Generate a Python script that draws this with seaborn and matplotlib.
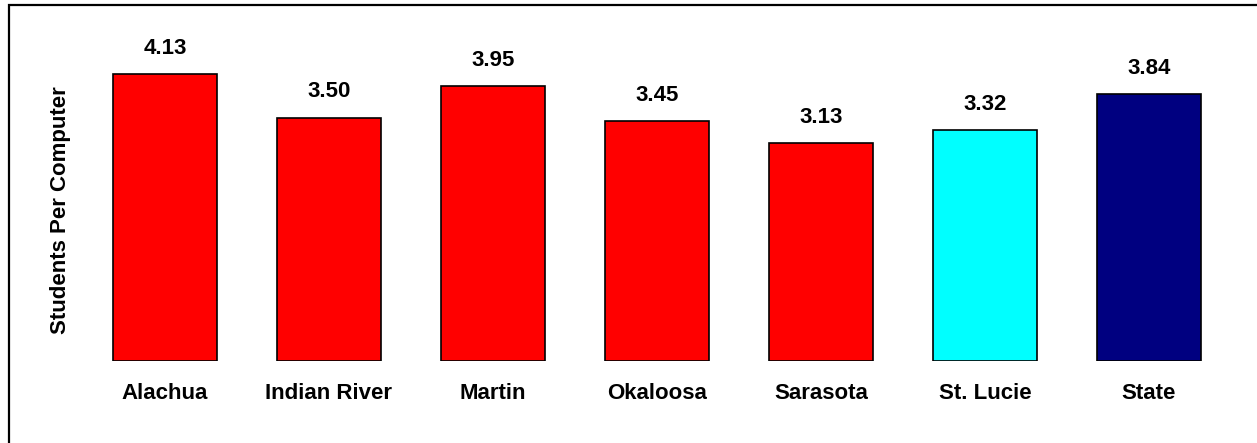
import matplotlib
matplotlib.use("Agg")
import matplotlib.pyplot as plt
from matplotlib.patches import Rectangle
import seaborn as sns
import pandas as pd

districts = ["Alachua", "Indian River", "Martin", "Okaloosa", "Sarasota", "St. Lucie", "State"]
students_per_computer = [4.13, 3.50, 3.95, 3.45, 3.13, 3.32, 3.84]
bar_colors = ["#FF0000", "#FF0000", "#FF0000", "#FF0000", "#FF0000", "#00FFFF", "#000080"]

sns.set_theme(style="white")
plt.rcParams["font.family"] = ["Liberation Sans", "DejaVu Sans"]
plt.rcParams["font.weight"] = "bold"
plt.rcParams["text.color"] = "black"
plt.rcParams["axes.labelcolor"] = "black"
plt.rcParams["xtick.color"] = "black"

df = pd.DataFrame({"District": districts, "Students": students_per_computer})

fig = plt.figure(figsize=(12.57, 4.43), dpi=100)
ax = fig.add_axes([0.066, 0.1851, 0.9133, 0.706])

sns.barplot(data=df, x="District", y="Students", hue="District",
            palette=bar_colors, saturation=1, width=0.634,
            edgecolor="black", linewidth=1.2, legend=False, ax=ax)

ax.set_ylim(0, 4.5)
ax.set_xlim(-0.5, len(districts) - 0.5)
for s in ax.spines.values():
    s.set_visible(False)
ax.set_yticks([])
ax.tick_params(axis="x", length=0, pad=16, labelsize=16, labelcolor="black")
for lbl in ax.get_xticklabels():
    lbl.set_fontweight("bold")
ax.set_xlabel("")
ax.set_ylabel("Students Per Computer", fontsize=16, fontweight="bold", color="black")
ax.yaxis.set_label_coords(-0.010, 0.483)

for i, v in enumerate(students_per_computer):
    ax.annotate(f"{v:.2f}", xy=(i, v), xytext=(0, 11), textcoords="offset points",
                ha="center", va="bottom", fontsize=16, fontweight="bold",
                color="black", annotation_clip=False)

# frame around the chart area
fig.patches.append(Rectangle((9.0 / 1257, -0.1), 1.2, 438 / 443 + 0.1,
                             transform=fig.transFigure, fill=False,
                             edgecolor="black", linewidth=1.6))

fig.savefig("out.png", dpi=100)
